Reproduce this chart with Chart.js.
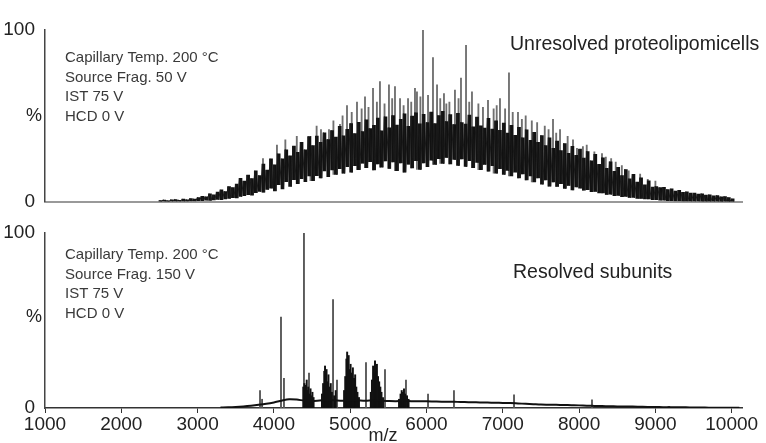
<!DOCTYPE html>
<html>
<head>
<meta charset="utf-8">
<script src="https://cdn.jsdelivr.net/npm/chart.js@4.4.1/dist/chart.umd.min.js"></script>
<style>
  html, body { margin: 0; padding: 0; background: #fff; }
  #wrap { position: relative; width: 766px; height: 443px; }
  .panel { position: absolute; left: 0; width: 766px; }
</style>
</head>
<body>
<div id="wrap">
  <div class="panel" style="top:0;height:215px"><canvas id="topChart"></canvas></div>
  <div class="panel" style="top:215px;height:228px"><canvas id="bottomChart"></canvas></div>
</div>
<script>
// m/z axis ticks
const xTicks = [1000, 2000, 3000, 4000, 5000, 6000, 7000, 8000, 9000, 10000];

// top spectrum: sampled every 50 m/z from 2500, upper and lower edge of the trace (%)
const topStart = 2500;
const topStep = 50;
const topHi = [
  0.6, 0.9, 0.5, 1.0, 1.2, 0.8, 1.4, 1.1, 1.7, 1.5,
  2.4, 3.1, 2.8, 4.6, 3.9, 5.5, 6.8, 5.9, 8.7, 8.1,
  10.2, 13.6, 11.9, 15.5, 13.4, 17.9, 15.1, 21.8, 18.3, 24.9,
  21.4, 27.8, 24.9, 30.2, 26.6, 32.4, 28.7, 34.6, 30.2, 37.9,
  32.6, 38.2, 34.5, 40.1, 36.2, 41.4, 37.6, 43.9, 38.3, 42.1,
  45.5, 39.6, 46.2, 40.8, 47.6, 42.5, 44.4, 48.7, 41.3, 49.4,
  43.0, 50.1, 44.6, 48.0, 51.2, 43.8, 49.8, 51.8, 45.3, 50.9,
  46.0, 52.2, 45.4, 50.1, 52.6, 46.6, 50.7, 44.9, 51.4, 46.1,
  45.2, 50.4, 43.5, 49.3, 44.1, 42.9, 48.5, 42.2, 47.0, 41.6,
  45.8, 39.9, 44.4, 38.6, 43.3, 37.2, 41.8, 35.7, 40.4, 34.5,
  38.5, 32.6, 37.1, 31.0, 35.2, 29.7, 33.8, 28.1, 32.2, 26.9,
  30.6, 25.4, 29.2, 23.8, 27.6, 21.7, 25.5, 19.4, 23.2, 17.7,
  20.0, 15.1, 18.7, 13.2, 15.9, 11.4, 13.8, 9.7, 12.1, 8.5,
  8.8, 8.1, 8.3, 7.0, 7.4, 6.2, 6.5, 5.4, 5.7, 4.9,
  5.0, 4.4, 4.6, 3.8, 4.0, 3.3, 3.5, 2.8, 2.9, 2.3,
  1.6
];
const topLo = [
  0.1, 0.2, 0.1, 0.2, 0.3, 0.2, 0.3, 0.3, 0.4, 0.4,
  0.5, 0.6, 0.8, 0.7, 1.0, 1.3, 1.1, 1.6, 1.9, 2.3,
  2.2, 3.0, 3.4, 4.1, 3.8, 5.2, 5.9, 5.5, 7.1, 7.8,
  6.2, 9.8, 7.4, 11.6, 8.9, 12.8, 10.5, 13.4, 11.6, 14.9,
  12.2, 15.1, 13.8, 17.9, 14.6, 18.4, 15.8, 19.2, 16.5, 20.4,
  17.2, 21.0, 18.6, 22.4, 19.8, 23.3, 18.5, 22.0, 20.1, 23.7,
  19.4, 23.1, 18.0, 22.5, 17.2, 21.8, 19.6, 23.9, 18.8, 22.5,
  20.3, 24.1, 21.6, 25.0, 22.2, 25.8, 21.9, 24.6, 21.1, 24.9,
  20.5, 23.8, 19.7, 22.9, 18.6, 21.7, 17.8, 20.9, 16.6, 19.2,
  15.8, 18.1, 14.9, 17.2, 13.8, 16.1, 12.7, 15.0, 11.5, 13.8,
  10.1, 12.6, 9.0, 11.5, 8.9, 10.4, 7.7, 9.5, 6.8, 8.6,
  7.8, 6.7, 6.9, 5.8, 6.0, 5.0, 5.1, 4.2, 4.3, 3.5,
  3.6, 2.9, 3.0, 2.4, 2.4, 1.9, 1.9, 1.5, 1.5, 1.1,
  1.1, 0.8, 0.8, 0.6, 0.6, 0.4, 0.4, 0.3, 0.3, 0.2,
  0.2, 0.2, 0.1, 0.1, 0.1, 0.1, 0.1, 0.0, 0.1, 0.0,
  0.0
];
// sharp peaks standing above the top envelope
const topSpikeMz = [
  3857, 4040, 4150, 4300, 4480, 4560, 4617, 4722, 4780, 4866, 4900, 4958, 5020, 5089, 5150, 5194,
  5240, 5299, 5350, 5390, 5450, 5508, 5550, 5587, 5653, 5700, 5758, 5800, 5849, 5875, 5920, 5954,
  6020, 6085, 6138, 6180, 6229, 6260, 6300, 6373, 6420, 6452, 6518, 6560, 6596, 6680, 6740, 6806,
  6880, 6920, 6963, 7030, 7081, 7130, 7199, 7250, 7300, 7380, 7450, 7550, 7600, 7658, 7700, 7750,
  7850, 7920, 7972, 8050, 8100, 8200, 8300, 8350, 8420, 8480, 8560, 8650, 8800, 8900, 9000
];
const topSpikeVal = [
  25, 33, 36, 38, 38, 44, 42, 42, 47, 45, 50, 56, 52, 58, 54, 61,
  55, 66, 58, 70, 57, 68, 60, 67, 60, 56, 60, 58, 66, 64, 61, 100,
  62, 84, 68, 60, 63, 57, 58, 65, 60, 72, 91, 58, 64, 57, 55, 59,
  54, 56, 60, 54, 75, 52, 52, 48, 50, 47, 46, 44, 42, 48, 40, 42,
  38, 36, 31, 32, 33, 29, 28, 26, 25, 23, 21, 18, 16, 13, 12
];

// bottom spectrum: slow baseline every 100 m/z from 3300
const botStart = 3300;
const botStep = 100;
const botBase = [
  0.3, 0.4, 0.6, 0.9, 1.3, 1.8, 2.4, 3.2, 4.2, 5.0,
  4.8, 4.2, 4.0, 4.3, 4.6, 4.4, 4.2, 4.5, 4.3, 4.1,
  4.4, 4.2, 4.0, 3.9, 4.1, 3.9, 3.8, 3.8, 3.7, 3.6,
  3.6, 3.5, 3.4, 3.3, 3.2, 3.1, 3.0, 2.9, 2.8, 2.6,
  2.4, 2.2, 2.0, 1.9, 1.8, 1.7, 1.6, 1.5, 1.3, 1.2,
  1.1, 1.0, 0.9, 0.8, 0.8, 0.7, 0.6, 0.6, 0.5, 0.5,
  0.4, 0.4, 0.3, 0.3, 0.2, 0.2, 0.2, 0.1, 0.1
];
// resolved subunit peaks
const botPeakMz = [3818, 3845, 4093, 4132, 4394, 4460, 4775, 4827, 5207, 5456, 5731, 6020, 6360, 7147, 8169];
const botPeakVal = [10, 5, 52, 17, 100, 20, 62, 16, 26, 22, 16, 8, 10, 7.5, 4.6];
// charge-state clusters
const botClusterMz = [
  4385, 4400, 4410, 4420, 4430, 4440, 4450, 4470, 4480, 4490, 4505, 4520,
  4630, 4645, 4660, 4670, 4680, 4690, 4700, 4715, 4730, 4745, 4760, 4790, 4810,
  4920, 4935, 4950, 4960, 4970, 4980, 4990, 5005, 5020, 5035, 5050, 5065, 5080, 5095, 5115,
  5270, 5285, 5300, 5310, 5325, 5340, 5350, 5365, 5380, 5395, 5410, 5430,
  5640, 5660, 5675, 5690, 5705, 5720, 5745, 5765
];
const botClusterVal = [
  12, 14, 9, 13, 16, 10, 12, 8, 11, 7, 9, 6,
  8, 14, 21, 24, 18, 22, 15, 19, 12, 14, 9, 7, 10,
  10, 18, 28, 32, 26, 30, 22, 25, 20, 23, 17, 19, 12, 9, 6,
  9, 16, 24, 20, 27, 21, 25, 18, 15, 12, 9, 6,
  5, 8, 10, 9, 11, 8, 7, 5
];

const topNotes = ['Capillary Temp. 200 °C', 'Source Frag. 50 V', 'IST 75 V', 'HCD 0 V'];
const botNotes = ['Capillary Temp. 200 °C', 'Source Frag. 150 V', 'IST 75 V', 'HCD 0 V'];
const topTitle = 'Unresolved proteolipomicells';
const botTitle = 'Resolved subunits';

const FONT = '"Liberation Sans", Arial, Helvetica, sans-serif';

// build point lists for the library
const topTrace = [];
const topCore = [];
topHi.forEach((v, i) => {
  const mz = topStart + i * topStep;
  topTrace.push({ x: mz, y: v }, { x: mz + topStep / 2, y: topLo[i] });
  topCore.push({ x: mz + topStep / 4, y: [topLo[i], v] });
});
// spikes rise from the band, not from zero
const topSpikes = topSpikeMz.map((m, i) => {
  const k = Math.min(topLo.length - 1, Math.max(0, Math.round((m - topStart) / topStep)));
  return { x: m, y: [topLo[k], topSpikeVal[i]] };
});
const botLine = botBase.map((v, i) => ({ x: botStart + i * botStep, y: v }));
const botPeaks = botPeakMz.map((m, i) => ({ x: m, y: botPeakVal[i] }));
const botCluster = botClusterMz.map((m, i) => ({ x: m, y: botClusterVal[i] }));

// text drawn on top of each panel
const notesPlugin = {
  id: 'notes',
  afterDraw(chart, args, opts) {
    const ctx = chart.ctx;
    ctx.save();
    ctx.textBaseline = 'middle';
    ctx.textAlign = 'left';
    ctx.fillStyle = '#3a3a3a';
    ctx.font = '15px ' + FONT;
    opts.lines.forEach((t, i) => ctx.fillText(t, 65, opts.y0 + i * 19.5));
    ctx.fillStyle = '#222';
    ctx.font = '19.5px ' + FONT;
    ctx.fillText(opts.title, opts.titleX, opts.titleY);
    ctx.font = '18px ' + FONT;
    ctx.fillText('%', 26, opts.pctY);
    if (opts.xTitle) {
      ctx.textAlign = 'center';
      ctx.fillText(opts.xTitle, 383, opts.xTitleY);
    }
    ctx.restore();
  }
};

function makeOptions(isBottom, notes) {
  return {
    responsive: true,
    maintainAspectRatio: false,
    animation: false,
    events: [],
    layout: { padding: { top: isBottom ? 18 : 30, right: 24, left: 0, bottom: 0 } },
    plugins: { legend: { display: false }, tooltip: { enabled: false }, notes: notes },
    scales: {
      x: {
        type: 'linear',
        min: 1000,
        max: 10135,
        offset: false,
        afterBuildTicks: s => { s.ticks = xTicks.map(v => ({ value: v })); },
        afterFit: s => { s.height = isBottom ? 35 : 8; },
        grid: { display: isBottom, drawOnChartArea: false, drawTicks: true, tickLength: 5, color: '#333', offset: false },
        border: { display: true, color: isBottom ? '#333' : '#999', width: isBottom ? 1.5 : 2 },
        ticks: {
          display: isBottom,
          autoSkip: false,
          maxRotation: 0,
          padding: 0,
          color: '#222',
          font: { size: 19, family: FONT },
          callback: v => String(v)
        }
      },
      y: {
        min: 0,
        max: 100,
        afterBuildTicks: s => { s.ticks = [{ value: 0 }, { value: 100 }]; },
        afterFit: s => { s.width = 45; },
        grid: { display: false },
        border: { display: true, color: '#444', width: 1.5 },
        ticks: { padding: 2, color: '#222', font: { size: 19, family: FONT } }
      }
    }
  };
}

new Chart(document.getElementById('topChart'), {
  type: 'line',
  data: {
    datasets: [
      { data: topTrace, borderColor: '#1a1a1a', borderWidth: 1, pointRadius: 0, tension: 0 },
      { type: 'bar', data: topCore, backgroundColor: '#111', barThickness: 3, grouped: false },
      { type: 'bar', data: topSpikes, backgroundColor: '#707070', barThickness: 1.2, grouped: false }
    ]
  },
  options: makeOptions(false, { lines: topNotes, y0: 58, title: topTitle, titleX: 510, titleY: 45, pctY: 116 }),
  plugins: [notesPlugin]
});

new Chart(document.getElementById('bottomChart'), {
  type: 'line',
  data: {
    datasets: [
      { data: botLine, borderColor: '#111', borderWidth: 2, pointRadius: 0, tension: 0.3 },
      { type: 'bar', data: botCluster, backgroundColor: '#111', barThickness: 1.3, grouped: false },
      { type: 'bar', data: botPeaks, backgroundColor: '#555', barThickness: 1.2, grouped: false }
    ]
  },
  options: makeOptions(true, { lines: botNotes, y0: 40, title: botTitle, titleX: 513, titleY: 58, pctY: 102, xTitle: 'm/z', xTitleY: 221 }),
  plugins: [notesPlugin]
});
</script>
</body>
</html>
